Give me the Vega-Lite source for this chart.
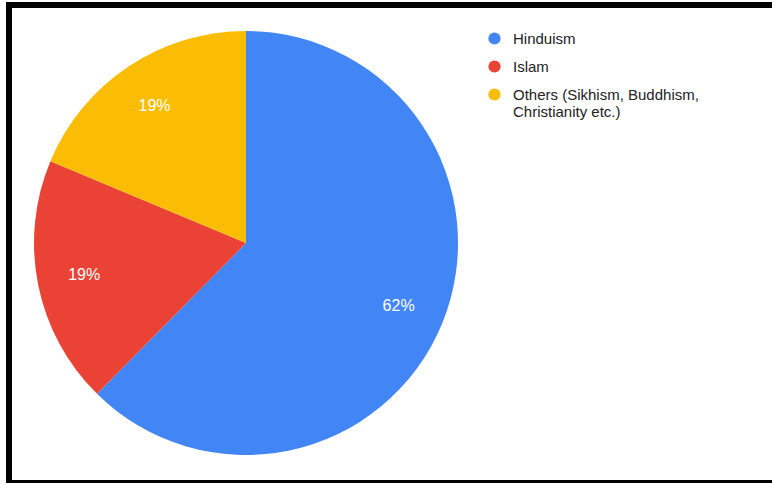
{
  "$schema": "https://vega.github.io/schema/vega-lite/v6.json",
  "autosize": "none",
  "padding": {"left": 9, "top": 5, "right": 0, "bottom": 0},
  "width": 800,
  "height": 478,
  "background": "white",
  "config": {
    "view": {"stroke": null},
    "font": "Liberation Sans"
  },
  "data": {
    "values": [
      {"religion": "Hinduism", "share": 62.4, "label": "62%"},
      {"religion": "Islam", "share": 18.9, "label": "19%"},
      {"religion": "Others (Sikhism, Buddhism, Christianity etc.)", "share": 18.7, "label": "19%"}
    ]
  },
  "layer": [
    {
      "mark": {"type": "rect", "fill": null, "stroke": "black", "strokeWidth": 6},
      "encoding": {}
    },
    {
      "mark": {"type": "arc", "x": 237, "y": 238, "radius": 212},
      "encoding": {
        "theta": {"field": "share", "type": "quantitative", "stack": true},
        "order": {"field": "religion", "type": "nominal"},
        "color": {
          "field": "religion",
          "type": "nominal",
          "scale": {
            "domain": ["Hinduism", "Islam", "Others (Sikhism, Buddhism, Christianity etc.)"],
            "range": ["#4285F4", "#EA4335", "#FBBC04"]
          },
          "legend": {
            "title": null,
            "orient": "none",
            "legendX": 478,
            "legendY": 26,
            "padding": 0,
            "symbolType": "circle",
            "symbolSize": 150,
            "symbolStrokeWidth": 0,
            "labelFont": "Liberation Sans",
            "labelFontSize": 15,
            "labelColor": "#222222",
            "labelOffset": 11,
            "rowPadding": 12,
            "labelLimit": 300,
            "labelExpr": "datum.label == 'Others (Sikhism, Buddhism, Christianity etc.)' ? ['Others (Sikhism, Buddhism,', 'Christianity etc.)'] : datum.label"
          }
        }
      }
    },
    {
      "mark": {"type": "text", "x": 237, "y": 238, "radius": 165, "fontSize": 16, "fill": "white", "font": "Liberation Sans"},
      "encoding": {
        "theta": {"field": "share", "type": "quantitative", "stack": true},
        "order": {"field": "religion", "type": "nominal"},
        "detail": {"field": "religion", "type": "nominal"},
        "text": {"field": "label", "type": "nominal"}
      }
    }
  ]
}
